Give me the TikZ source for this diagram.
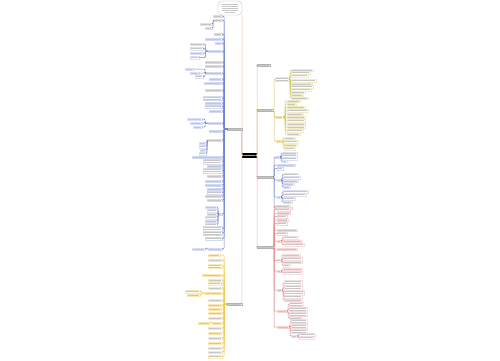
\documentclass[tikz,border=0pt]{standalone}
\definecolor{cblue}{HTML}{7083D4}
\definecolor{cyel}{HTML}{F2C94C}
\definecolor{colive}{HTML}{D6C95A}
\definecolor{cred}{HTML}{E08A8A}
\definecolor{ctan}{HTML}{E8C39E}
\definecolor{cpink}{HTML}{EBB0A8}
\newcommand\mmleaf[6]{%
  \pgfmathsetmacro\mmw{#3-#2}%
  \pgfmathsetmacro\mmh{2*#5+0.4}%
  \node[leaf, draw=#6, minimum width=\mmw pt, minimum height=\mmh pt] (#1) at ({(#2+#3)/2},#4) {};
  \foreach \j in {1,...,#5}{\draw[txt] ([xshift=0.7pt,yshift={-(2*\j-0.8)*1pt}]#1.north west) -- ([xshift=-0.7pt,yshift={-(2*\j-0.8)*1pt}]#1.north east);}%
}
\newcommand\mmR[4]{\draw[con,#3] (#1.east) -- ++(#4,0) |- (#2.west);}
\newcommand\mmL[4]{\draw[con,#3] (#1.west) -- ++(-#4,0) |- (#2.east);}
\begin{document}
\begin{tikzpicture}[x=1pt,y=-1pt,
  leaf/.style={draw, line width=0.25pt, fill=white, inner sep=0pt, outer sep=0pt, rectangle},
  txt/.style={line width=0.7pt, gray!45},
  con/.style={line width=0.5pt, rounded corners=1pt}]
\fill[white] (0,0) rectangle (500,360);
\useasboundingbox (0,0) rectangle (500,360);
% root
\node[fill=black, draw=black, minimum width=14pt, minimum height=4pt, inner sep=0pt] (root) at (249.5,155.5) {};
\draw[line width=0.8pt, gray!70] (244,155.5) -- (255,155.5);
% top rounded node
\node[leaf, rounded corners=4pt, draw=gray!60, minimum width=24pt, minimum height=14pt] (T) at (230,8) {};
\foreach \o/\l in {-4/8,-2/8,0/8,2/8,4/5}{\draw[txt] (230-\l,8+\o) -- (230+\l,8+\o);}
% level 1
\mmleaf{B}{227}{242}{129}{1}{gray!60}
\mmleaf{Y}{227}{242}{304}{1}{gray!60}
\mmleaf{R1}{257}{270}{65}{1}{gray!60}
\mmleaf{R2}{257}{273}{110}{1}{gray!60}
\mmleaf{R3}{257}{273}{177}{1}{gray!60}
\mmleaf{R4}{257}{273}{247}{1}{gray!60}
\draw[con,cblue] (root.west) -- ++(-0.5,0) |- (B.east);
\draw[con,ctan] (root.west) -| (T.south east);
\draw[con,ctan] (root.west) -- ++(-0.5,0) |- (Y.east);
\draw[con,colive] (root.east) -- ++(0.5,0) |- (R2.west);
\draw[con,cpink] (root.east) -- ++(0.5,0) |- (R3.west);
\draw[con,cpink] (root.east) -- ++(0.5,0) |- (R1.west);
\draw[con,cpink] (root.east) -- ++(0.5,0) |- (R4.west);
% blue branch
\foreach \n/\a/\b/\y/\m in {b1/213/222/16/1,b2/214/222/20/1,b3/214/222/34/1,b4/205/222/39/1,b5/215/222/43/1,b6/208/222/51/1,b7/205/222/62/1,b8/205/222/66/1,b9/207/222/73/1,b10/209/222/79/1,b11/204/222/83/1,b12/205/222/90/1,b13/203/222/98/2,b14/205/222/103/1,b15/205/222/106.5/1,b16/209/222/111/1,b17/208/222/123/1,b18/209/222/131/1,b19/208/222/140/1,b20/192/222/157/1,b21/203/222/161.5/2,b22/207/222/166/1,b23/203/222/170.5/2,b24/207/222/176/1,b25/205/222/181/1,b26/205/222/185/1,b27/207/222/189/1,b28/207/222/192.5/1,b29/205/222/196/1,b30/207/222/200/1,b31/219/222/214/1,b32/203/222/228.5/2,b33/203/222/233/2,b34/205/222/238.5/1,b35/208/222/249/1}
  {\mmleaf{\n}{\a}{\b}{\y}{\m}{cblue!30}\mmL{B}{\n}{cblue}{3}}
\foreach \n/\a/\b/\y/\m/\p/\d in {b2a/200/212/24/1/b2/1,b2b/205/212/28/1/b2/1,b6a/190/203/44/1/b6/2.5,b6b/190/203/48.5/1/b6/2.5,b6c/190/203/53/1/b6/2.5,b6d/190/199/57.5/1/b6/2.5,b9a/185/193/69/1/b9/2,b9b/190/199/73/1/b9/2,b9c/195/203/76.5/1/b9/2,b17a/187/202/119/1/b17/3,b17b/190/202/123/1/b17/3,b17c/193/202/127/1/b17/3,b19a/199/206/143/1/b19/1,b19b/199/206/146.5/1/b19/1,b19c/200/206/150/1/b19/1,b19d/199/206/153.5/1/b19/1,b31a/205/217/207/1/b31/1,b31b/207/217/210.5/1/b31/1,b31c/207/217/214/1/b31/1,b31d/205/217/217.5/1/b31/1,b31e/205/217/221/1/b31/1,b31f/205/217/224.5/1/b31/1,b35a/192/205/249/1/b35/1.5}
  {\mmleaf{\n}{\a}{\b}{\y}{\m}{cblue!25}\mmL{\p}{\n}{cblue}{\d}}
% yellow branch
\foreach \n/\a/\b/\y/\m in {y1/208/220/255/1,y2/208/222/260/1,y3/208/222/266/2,y4/202/222/275/1,y5/208/222/280/1,y6/208/221/283.5/1,y7/208/222/288/1,y8/204/222/293/1,y9/208/222/300/1,y10/208/222/305/1,y11/208/221/309/1,y12/208/222/313/1,y13/208/222/318/1,y14/212/222/323/1,y15/208/222/328/1,y16/208/221/333/1,y17/208/222/338/1,y18/208/222/343/1,y19/208/222/348/1,y20/208/222/352/1,y21/208/222/356.5/1}
  {\mmleaf{\n}{\a}{\b}{\y}{\m}{cyel!40}\mmL{Y}{\n}{cyel}{3}}
\foreach \n/\a/\b/\y/\m/\p/\d in {y8a/185/200/291.5/1/y8/2,y8b/187/200/295/1/y8/2,y14a/198/210/323/1/y14/1}
  {\mmleaf{\n}{\a}{\b}{\y}{\m}{cyel!40}\mmL{\p}{\n}{cyel}{\d}}
% olive branch
\foreach \n/\a/\b/\y/\m in {g1/275/289/79/2,g2/275/283/117/1,g3/276/282/141/1}
  {\mmleaf{\n}{\a}{\b}{\y}{\m}{colive!40}\mmR{R2}{\n}{colive}{1}}
\foreach \n/\a/\b/\y/\m/\p/\d in {g1a/291/313/70/1/g1/1,g1b/291/310/72.8/1/g1/1,g1c/291/308/75.6/1/g1/1,g1d/291/316/80.6/1/g1/1,g1e/291/312/84/1/g1/1,g1f/291/313/86.8/1/g1/1,g1g/291/311/89.6/1/g1/1,g1h/291/305/92.4/1/g1/1,g1i/291/303/95.2/1/g1/1,g1j/291/308/98/1/g1/1,g2a/287/300/101/1/g2/2,g2b/287/296/104/1/g2/2,g2c/287/305/107.3/1/g2/2,g2d/287/308/110.6/1/g2/2,g2e/287/303/114/1/g2/2,g2f/287/305/117.3/1/g2/2,g2g/287/305/120.6/1/g2/2,g2h/287/305/124/1/g2/2,g2i/287/305/127.3/1/g2/2,g2j/287/303/130.6/1/g2/2,g2k/287/300/134/1/g2/2,g3a/284/295/138/1/g3/1,g3b/284/298/141.5/1/g3/1,g3c/284/297/145/1/g3/1,g3d/284/295/148.5/1/g3/1}
  {\mmleaf{\n}{\a}{\b}{\y}{\m}{colive!35}\mmR{\p}{\n}{colive}{\d}}
% blue right branch
\foreach \n/\a/\b/\y/\m in {c1/275/280/157/1,c2/277/295/165/1,c3/277/283/168.5/1,c4/277/281/180/1,c5/277/281/197/1,c6/278/292/208/1}
  {\mmleaf{\n}{\a}{\b}{\y}{\m}{cblue!30}\mmR{R3}{\n}{cblue}{1}}
\foreach \n/\a/\b/\y/\m/\p/\d in {c1a/282/297/153/1/c1/1,c1b/282/297/155.8/1/c1/1,c1c/282/297/158.6/1/c1/1,c1d/282/287/161.4/1/c1/1,c4a/283/298/174.5/1/c4/1,c4b/283/300/177.5/1/c4/1,c4c/283/298/181/1/c4/1,c4d/283/294/184/1/c4/1,c4e/283/290/187/1/c4/1,c5a/283/308/191.5/1/c5/1,c5b/283/306/194.7/1/c5/1,c5c/283/295/198.5/1/c5/1,c5d/283/292/202/1/c5/1}
  {\mmleaf{\n}{\a}{\b}{\y}{\m}{cblue!25}\mmR{\p}{\n}{cblue}{\d}}
% red branch
\foreach \n/\a/\b/\y/\m in {r1/275/290/206/1,r2/277/290/209.5/1,r3/277/290/213/1,r4/277/287/216.5/1,r5/277/288/220/1,r6/277/287/223.5/1,r7/277/297/230/1,r8/277/287/233.5/1,r9/277/281/241/1,r10/277/297/249/1,r11/277/281/260.5/1,r12/277/281/271/1,r13/277/282/290/1,r14/277/287/311/1,r15/277/289/327/1}
  {\mmleaf{\n}{\a}{\b}{\y}{\m}{cred!35}\mmR{R4}{\n}{cred}{1}}
\foreach \n/\a/\b/\y/\m/\p/\d in {r9a/283/298/237.5/1/r9/1,r9b/283/302/241/1/r9/1,r9c/285/304/244.5/1/r9/1,r11a/283/300/255/1/r11/1,r11b/283/302/258.5/1/r11/1,r11c/283/302/262/1/r11/1,r11d/283/290/265.5/1/r11/1,r12a/283/302/269/1/r12/1,r12b/283/302/272.5/1/r12/1,r13a/284/302/282.5/2/r13/1,r13b/284/302/287.5/2/r13/1,r13c/284/304/292.5/2/r13/1,r13d/284/302/296.5/1/r13/1,r13e/284/302/300/1/r13/1,r14a/289/303/304/2/r14/1,r14b/289/307/309/2/r14/1,r14c/289/307/314/2/r14/1,r14d/289/302/318/1/r14/1,r15a/291/307/321/2/r15/1,r15b/291/307/326/2/r15/1,r15c/291/307/331/2/r15/1,r15d/291/297/336/1/r15/1,r15e/299/315/334.5/1/r15d/1,r15f/299/314/337.5/1/r15d/1}
  {\mmleaf{\n}{\a}{\b}{\y}{\m}{cred!30}\mmR{\p}{\n}{cred}{\d}}
\end{tikzpicture}
\end{document}
